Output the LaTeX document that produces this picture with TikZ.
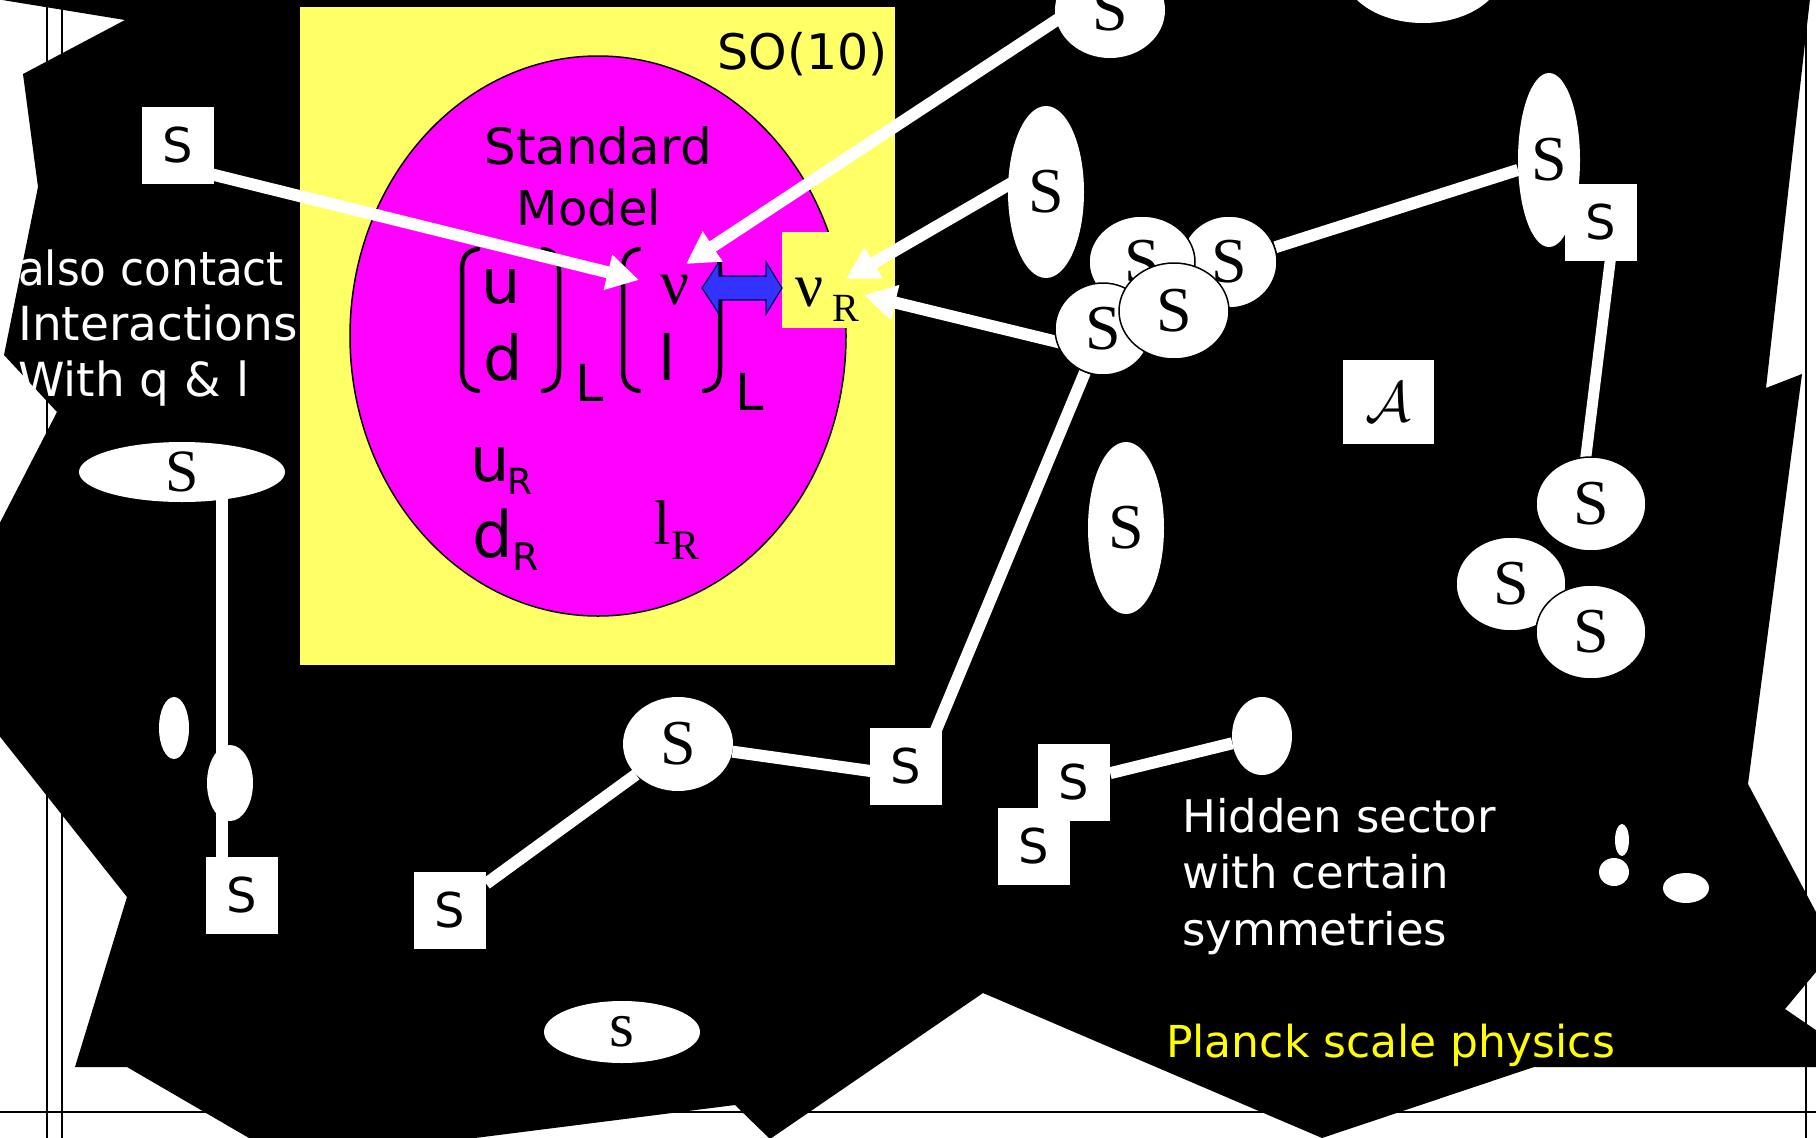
\documentclass[tikz,border=0pt]{standalone}
\usepackage{fontspec}
\setmainfont{DejaVu Sans}
\newfontfamily\tms{Liberation Serif}
\usetikzlibrary{shapes.geometric,arrows.meta,calc}
\pgfdeclarelayer{back}
\pgfdeclarelayer{links}
\pgfsetlayers{back,links,main}
\definecolor{yel}{RGB}{255,255,102}
\definecolor{mag}{RGB}{255,0,255}
\definecolor{blu}{RGB}{51,51,255}
\definecolor{plk}{RGB}{255,255,0}
\tikzset{
  framerule/.style={black, line width=2.2pt},
  sbox/.style={fill=white, inner sep=0pt, minimum width=72pt, minimum height=77pt, font=\fontsize{48}{48}\selectfont},
  sell/.style={ellipse, fill=white, inner sep=0pt, font=\tms\fontsize{64}{64}\selectfont},
  cell/.style={sell, draw=black, line width=1.5pt},
  dot/.style={ellipse, fill=white, inner sep=0pt},
  link/.style={white, line width=12pt},
  arr/.style={white, line width=12pt, -{Triangle[length=32pt,width=34pt]}},
  wtxt/.style={white, anchor=base west, inner sep=0pt, font=\fontsize{47}{47}\selectfont},
  htxt/.style={white, anchor=base west, inner sep=0pt, font=\fontsize{45}{45}\selectfont},
  ktxt/.style={black, anchor=base, inner sep=0pt},
  brk/.style={black, line width=4.5pt, line cap=round},
}
\begin{document}
\begin{tikzpicture}[x=1pt,y=-1pt]
\useasboundingbox (0,0) rectangle (1816,1138);
\begin{pgfonlayer}{back}
  \fill[white] (0,0) rectangle (1816,1138);
  \draw[framerule] (47,0) -- (47,1138);
  \draw[framerule] (62,0) -- (62,1138);
  \draw[framerule] (1806,0) -- (1806,1138);
  \draw[framerule] (0,1112) -- (1816,1112);
  \fill[black] (-10,-10) -- (1811,-10) -- (1766,388) -- (1802,374) -- (1748,784)
    -- (1826,931) -- (1826,960) -- (1785,1009) -- (1826,1037) -- (1826,1067)
    -- (1534,1067) -- (1322,1138) -- (983,993) -- (770,1139) -- (735,1105)
    -- (420,1145) -- (261,1145) -- (127,1067) -- (75,1067) -- (127,897)
    -- (-10,724) -- (-10,542) -- (57,412) -- (4,355) -- (38,187) -- (23,74)
    -- (125,20) -- (-10,-2) -- cycle;
  \fill[yel] (300,7) rectangle (895,665);
  \draw[fill=mag, line width=1.5pt] (598,336) ellipse [x radius=248, y radius=280];
  \fill[yel] (782,232) rectangle (895,328);
  % brackets
  \draw[brk] (478,249) .. controls (466,251) and (462,258) .. (462,270) -- (462,370) .. controls (462,382) and (466,389) .. (478,391);
  \draw[brk] (543,249) .. controls (555,251) and (559,258) .. (559,270) -- (559,370) .. controls (559,382) and (555,389) .. (543,391);
  \draw[brk] (639,249) .. controls (627,251) and (623,258) .. (623,270) -- (623,370) .. controls (623,382) and (627,389) .. (639,391);
  \draw[brk] (704,249) .. controls (716,251) and (720,258) .. (720,270) -- (720,370) .. controls (720,382) and (716,389) .. (704,391);
  % blue double arrow
  \draw[fill=blu, draw=blue!35!black, line width=1.3pt] (702,288) -- (719,262) -- (719,276) -- (766,276) -- (766,262) -- (782,288) -- (766,314) -- (766,300) -- (719,300) -- (719,314) -- cycle;
\end{pgfonlayer}

% texts in the SO(10) box
\node[ktxt, font=\fontsize{49}{49}\selectfont] (so) at (803,69) {SO(10)};
\node[ktxt, font=\fontsize{50}{50}\selectfont] (std) at (598,164) {Standard};
\node[ktxt, font=\fontsize{48}{48}\selectfont] (mdl) at (589,225) {Model};
\node[ktxt, font=\fontsize{62}{62}\selectfont] (qu) at (501,303) {u};
\node[ktxt, font=\fontsize{62}{62}\selectfont] (qd) at (503,380) {d};
\node[ktxt, font=\fontsize{51}{51}\selectfont] (qL) at (590,401) {L};
\node[ktxt, font=\tms\fontsize{64}{64}\selectfont] (nu) at (675,304) {ν};
\node[ktxt, font=\fontsize{62}{62}\selectfont] (ll) at (667,380) {l};
\node[ktxt, font=\fontsize{51}{51}\selectfont] (lL) at (750,410) {L};
\node[ktxt, font=\fontsize{62}{62}\selectfont] (uR) at (490,481) {u};
\node[ktxt, font=\fontsize{36}{36}\selectfont] (uRs) at (520,494) {R};
\node[ktxt, font=\fontsize{64}{64}\selectfont] (dR) at (493,557) {d};
\node[ktxt, font=\fontsize{38}{38}\selectfont] (dRs) at (526,570) {R};
\node[ktxt, font=\tms\fontsize{63}{63}\selectfont] (lR) at (662,544) {l};
\node[ktxt, font=\tms\fontsize{42}{42}\selectfont] (lRs) at (685,559) {R};
\node[ktxt, font=\tms\fontsize{62}{62}\selectfont] (nuR) at (810,306) {ν};
\node[ktxt, font=\tms\fontsize{40}{40}\selectfont] (nuRs) at (846,321) {R};

% white texts
\node[wtxt] (t1) at (18,285) {\scalebox{0.93}[1]{also contact}};
\node[wtxt] (t2) at (18,340) {Interactions};
\node[wtxt] (t3) at (18,396) {With q \& l};
\node[htxt] (h1) at (1182,832) {Hidden sector};
\node[htxt] (h2) at (1182,888) {with certain};
\node[htxt] (h3) at (1182,945) {symmetries};
\node[htxt, plk, font=\fontsize{44}{44}\selectfont] (pl) at (1166,1057) {Planck scale physics};

% S nodes
\node[sell, minimum width=110pt, minimum height=96pt] (etop) at (1110,10) {S};
\node[dot, minimum width=160pt, minimum height=106pt] (etop2) at (1423,-30) {};
\node[sell, minimum width=76pt, minimum height=172pt] (e7) at (1046,192) {S};
\node[sell, minimum width=76pt, minimum height=172pt] (e8) at (1126,528) {S};
\node[sell, minimum width=62pt, minimum height=174pt] (e9) at (1549,160) {S};
\node[sbox] (sb7) at (1601,222) {S};
\node[cell, minimum width=96pt, minimum height=92pt] (c2) at (1229,262) {S};
\node[cell, minimum width=106pt, minimum height=92pt] (c1) at (1142,262) {S};
\node[cell, minimum width=96pt, minimum height=92pt] (c3) at (1103,329) {S};
\node[cell, minimum width=110pt, minimum height=96pt] (c4) at (1174,311) {S};
\node[fill=white, inner sep=0pt, minimum width=91pt, minimum height=84pt] (abox) at (1388,402) {\scalebox{5.7}{$\mathcal{A}$}};
\node[cell, minimum width=110pt, minimum height=94pt] (r1) at (1591,504) {S};
\node[cell, minimum width=110pt, minimum height=94pt] (r2) at (1511,584) {S};
\node[cell, minimum width=110pt, minimum height=94pt] (r3) at (1591,632) {S};
\node[sell, font=\tms\fontsize{60}{60}\selectfont, minimum width=206pt, minimum height=60pt] (e1) at (182,472) {S};
\node[dot, minimum width=30pt, minimum height=62pt] (e2) at (174,728) {};
\node[dot, minimum width=46pt, minimum height=76pt] (e3) at (230,783) {};
\node[sbox] (sb1) at (178,145) {S};
\node[sbox] (sb2) at (242,895) {S};
\node[sbox] (sb3) at (450,910) {S};
\node[sell, minimum width=110pt, minimum height=94pt] (e4) at (678,744) {S};
\node[sbox] (sb4) at (906,766) {S};
\node[sbox] (sb6) at (1034,846) {S};
\node[sbox] (sb5) at (1074,782) {S};
\node[dot, minimum width=60pt, minimum height=78pt] (e6) at (1262,736) {};
\node[sell, minimum width=156pt, minimum height=62pt] (e5) at (622,1032) {s};
\node[dot, minimum width=14pt, minimum height=32pt] (d1) at (1622,840) {};
\node[dot, minimum width=30pt, minimum height=28pt] (d2) at (1614,872) {};
\node[dot, minimum width=46pt, minimum height=30pt] (d3) at (1686,888) {};

\coordinate (tipA) at (639,280);
\coordinate (tipB) at (686,264);
\coordinate (tipC) at (846,279);
\coordinate (tipD) at (864,295);

\begin{pgfonlayer}{links}
  \draw[arr] ($(sb1)+(0,21)$) -- (tipA);
  \draw[arr] ($(etop)+(0,-25)$) -- (tipB);
  \draw[arr] ($(e7)+(0,-29)$) -- (tipC);
  \draw[arr] ($(c3)+(0,24)$) -- (tipD);
  \draw[link] (c3) -- ($(sb4)+(15,0)$);
  \draw[link] (e4) -- ($(sb4)+(0,10)$);
  \draw[link] (sb3) -- (e4);
  \draw[link] ($(e1)+(40,0)$) -- ($(sb2)+(-20,0)$);
  \draw[link] (sb5) -- (e6);
  \draw[link] (c2) -- (e9);
  \draw[link, line width=11pt] ($(sb7)+(14,0)$) -- ($(r1)+(-11,0)$);
\end{pgfonlayer}
\end{tikzpicture}
\end{document}
